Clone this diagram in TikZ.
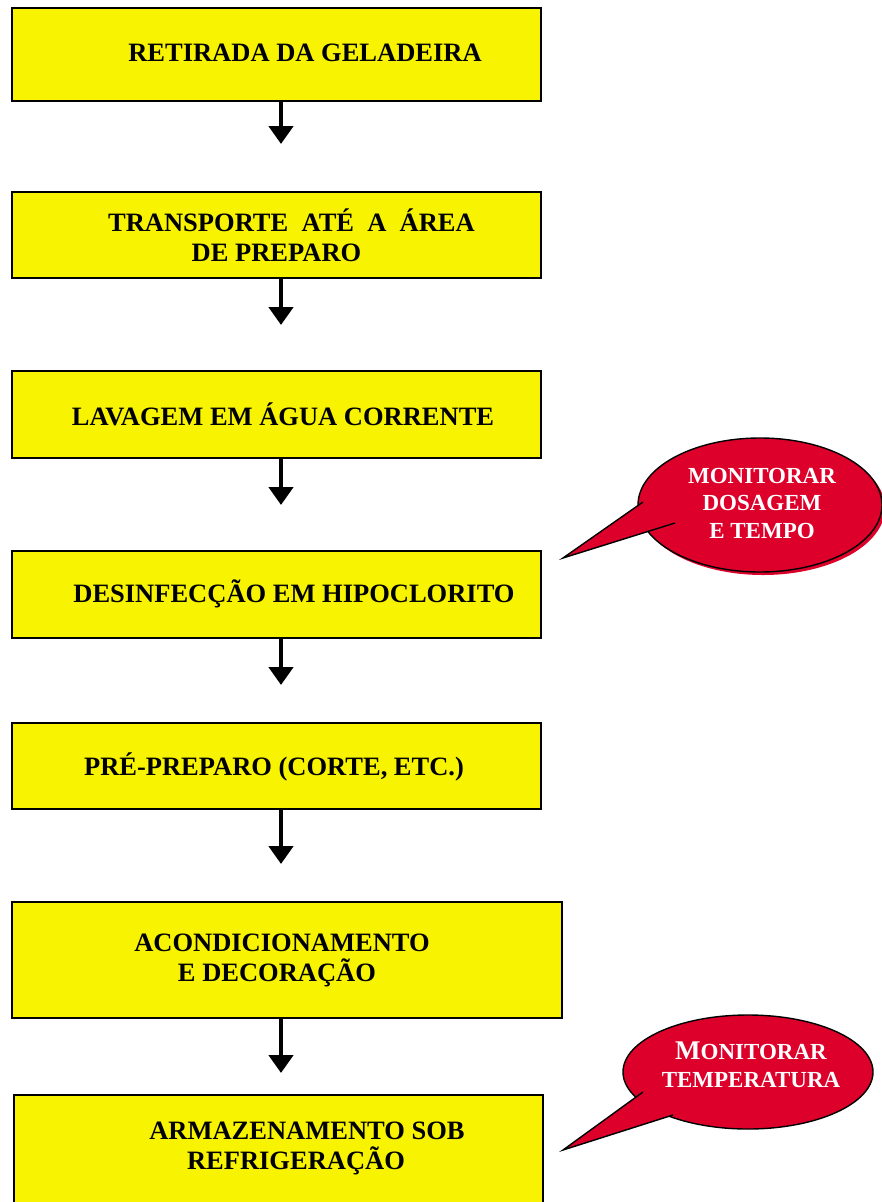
\documentclass[tikz,border=0pt]{standalone}
\usepackage{fontspec}
\setmainfont{Liberation Serif}
\usetikzlibrary{shapes.geometric,arrows.meta,calc}

\definecolor{boxyellow}{RGB}{248,243,0}
\definecolor{callred}{RGB}{220,0,42}

\tikzset{
  stepbox/.style={draw=black, line width=1.4pt, fill=boxyellow, rectangle, inner sep=0pt},
  steptext/.style={font=\fontsize{26.5}{30}\selectfont\bfseries, align=center, inner sep=0pt},
  flow/.style={line width=4.5pt, -{Triangle[width=24pt,length=18pt]}},
  balloon/.style={ellipse, draw=black, line width=1.4pt, fill=callred, inner sep=0pt},
  balloontext/.style={font=\fontsize{23}{27.5}\selectfont\bfseries, text=white, align=center, inner sep=0pt},
}

\begin{document}
\begin{tikzpicture}[x=1pt, y=-1pt]
  \useasboundingbox (0,0) rectangle (881,1202);

  % the steps
  \node[stepbox, minimum width=529pt, minimum height=93pt] (b1) at (276.5,54.5) {};
  \node[stepbox, minimum width=529pt, minimum height=86pt] (b2) at (276.5,235) {};
  \node[stepbox, minimum width=529pt, minimum height=87pt] (b3) at (276.5,414.5) {};
  \node[stepbox, minimum width=529pt, minimum height=87pt] (b4) at (276.5,594.5) {};
  \node[stepbox, minimum width=529pt, minimum height=86pt] (b5) at (276.5,766) {};
  \node[stepbox, minimum width=550pt, minimum height=116pt] (b6) at (287,960) {};
  \node[stepbox, minimum width=529pt, minimum height=120pt] (b7) at (278.5,1155) {};

  \node[steptext] (t1) at (305,53) {RETIRADA DA GELADEIRA};
  \node[steptext] (t2) at (291.5,235) {TRANSPORTE\ \ ATÉ\ \ A\ \ ÁREA\\DE PREPARO\hspace{30pt}\mbox{}};
  \node[steptext] (t3) at (283,414) {LAVAGEM EM ÁGUA CORRENTE};
  \node[steptext] (t4) at (294,594) {DESINFECÇÃO EM HIPOCLORITO};
  \node[steptext] (t5) at (274,767) {PRÉ-PREPARO (CORTE, ETC.)};
  \node[steptext] (t6) at (282,960) {ACONDICIONAMENTO\\E DECORAÇÃO\hspace{10pt}\mbox{}};
  \node[steptext] (t7) at (307,1148) {ARMAZENAMENTO SOB\\REFRIGERAÇÃO\hspace{22pt}\mbox{}};

  % arrows between the steps
  \coordinate (e1) at (281,144);
  \coordinate (e2) at (281,325);
  \coordinate (e3) at (281,505);
  \coordinate (e4) at (281,685);
  \coordinate (e5) at (281,864);
  \coordinate (e6) at (281,1073);
  \draw[flow] (b1.south -| e1) -- (e1);
  \draw[flow] (b2.south -| e2) -- (e2);
  \draw[flow] (b3.south -| e3) -- (e3);
  \draw[flow] (b4.south -| e4) -- (e4);
  \draw[flow] (b5.south -| e5) -- (e5);
  \draw[flow] (b6.south -| e6) -- (e6);

  % callout: dosagem
  \coordinate (doseC) at (760,505);
  \fill[callred] ($(doseC)+(3,3)$) ellipse [x radius=122pt, y radius=67pt];
  \node[balloon, minimum width=244pt, minimum height=134pt] (dose) at (doseC) {};
  \coordinate (doseTip) at (563,558);
  \filldraw[fill=callred, draw=black, line width=1.4pt]
    ($(dose.center)+(-117,-3)$) -- (doseTip) -- ($(dose.center)+(-85,18)$);
  \node[balloontext] (doseT) at (762,503) {MONITORAR\\DOSAGEM\\E TEMPO};

  % callout: temperatura
  \node[balloon, minimum width=250pt, minimum height=114pt] (temp) at (748,1072) {};
  \coordinate (tempTip) at (563,1150);
  \filldraw[fill=callred, draw=black, line width=1.4pt]
    ($(temp.center)+(-105,20)$) -- (tempTip) -- ($(temp.center)+(-75,43)$);
  \node[balloontext] (tempT) at (751,1065) {{\fontsize{27}{27.5}\selectfont M}ONITORAR\\TEMPERATURA};
\end{tikzpicture}
\end{document}
